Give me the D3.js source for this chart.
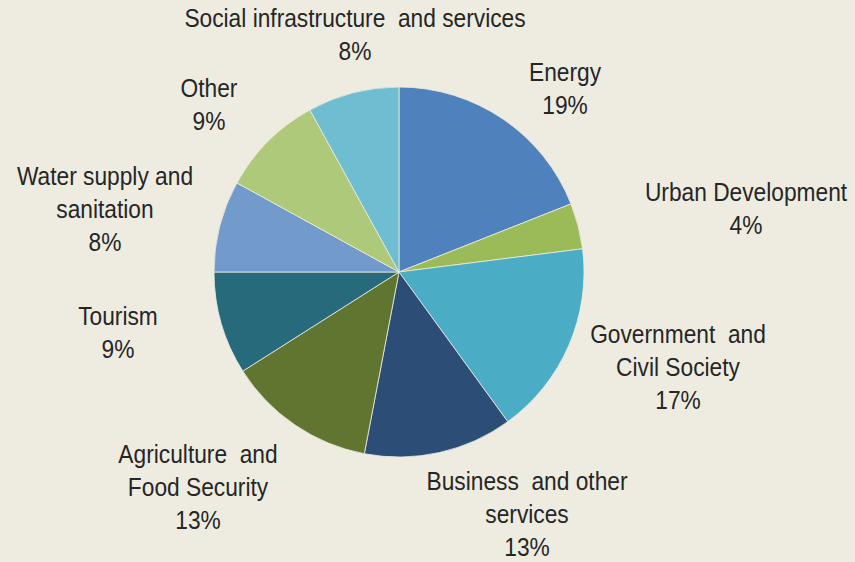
<!DOCTYPE html>
<html><head><meta charset="utf-8">
<script src="https://cdn.jsdelivr.net/npm/d3@7"></script>
<style>
html,body{margin:0;padding:0;background:#EEECE1;}
svg{display:block;}
text{font-family:"Liberation Sans Narrow","Arial Narrow","Liberation Sans",Arial,sans-serif;font-size:25px;fill:#262626;white-space:pre;}
</style></head>
<body>
<svg id="chart" width="855" height="562"></svg>
<script>
const categories = ["Energy","Urban Development","Government and Civil Society","Business and other services","Agriculture and Food Security","Tourism","Water supply and sanitation","Other","Social infrastructure and services"];
const values = [19,4,17,13,13,9,8,9,8];
const labelLines = [
  ["Energy"],
  ["Urban Development"],
  ["Government  and","Civil Society"],
  ["Business  and other","services"],
  ["Agriculture  and","Food Security"],
  ["Tourism"],
  ["Water supply and","sanitation"],
  ["Other"],
  ["Social infrastructure  and services"]
];
const colors = ["#4F81BD","#9BBB59","#4BACC6","#2C4D75","#5F7530","#276A7C","#729ACA","#AFC97A","#6FBDD1"];
// label anchor (center x, first-line baseline y) layout
const labelPos = [[565,81],[746,201],[678,343],[527,490],[198,463],[118,325],[105,185],[209,97],[355,27]];

const svg = d3.select("#chart");
const cx = 399, cy = 272, r = 185;
const pie = d3.pie().sort(null).value(d => d.v);
const arc = d3.arc().innerRadius(0).outerRadius(r);
const data = categories.map((c,i)=>({c, v: values[i], i}));
const g = svg.append("g").attr("transform",`translate(${cx},${cy})`);
g.selectAll("path").data(pie(data)).join("path")
  .attr("d", arc)
  .attr("fill", d => colors[d.data.i])
  .attr("stroke","#EEECE1").attr("stroke-width",0.8);

const lh = 33;
data.forEach((d,i)=>{
  const [x,y] = labelPos[i];
  const t = svg.append("text").attr("text-anchor","middle")
    .attr("transform",`translate(${x},${y}) scale(0.91,1)`);
  const lines = labelLines[i].concat([d.v + "%"]);
  lines.forEach((ln,j)=>{
    t.append("tspan").attr("x",0).attr("y",j*lh).text(ln);
  });
});
</script>
</body></html>
